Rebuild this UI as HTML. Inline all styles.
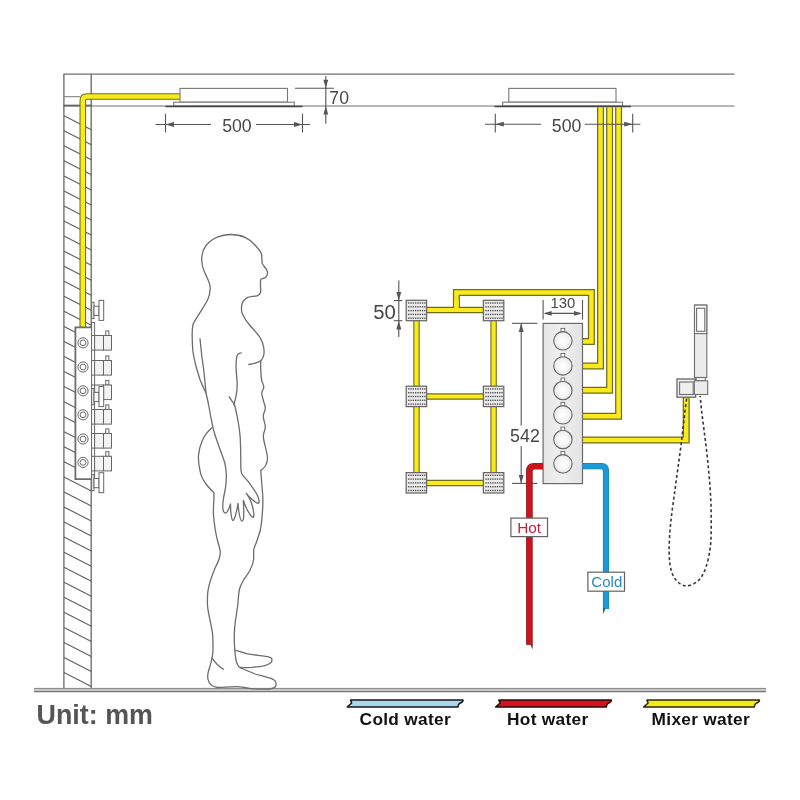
<!DOCTYPE html>
<html><head><meta charset="utf-8">
<style>
html,body{margin:0;padding:0;background:#fff;}
body{width:800px;height:800px;overflow:hidden;font-family:"Liberation Sans",sans-serif;}
svg{display:block;will-change:transform;}
text{font-family:"Liberation Sans",sans-serif;}
</style></head><body>
<svg width="800" height="800" viewBox="0 0 800 800">
<defs>
<linearGradient id="panelg" x1="0" x2="1" y1="0" y2="0">
<stop offset="0" stop-color="#e6e6e6"/><stop offset="0.45" stop-color="#efefef"/><stop offset="1" stop-color="#e3e3e3"/>
</linearGradient>
<radialGradient id="knobg" cx="0.5" cy="0.5" r="0.55">
<stop offset="0" stop-color="#ffffff"/><stop offset="0.6" stop-color="#f4f4f4"/><stop offset="1" stop-color="#dedede"/>
</radialGradient>
</defs>
<rect width="800" height="800" fill="#fff"/>
<g fill="none" stroke="#707070" stroke-width="1.2">
<line x1="63.4" y1="74.2" x2="734.5" y2="74.2"/>
<line x1="63.4" y1="106" x2="734.5" y2="106"/>
<line x1="63.9" y1="74" x2="63.9" y2="691" stroke="#666" stroke-width="1.3"/>
<line x1="91.2" y1="74" x2="91.2" y2="691" stroke="#666" stroke-width="1.3"/>
<line x1="64" y1="96.7" x2="80" y2="96.7" stroke="#777" stroke-width="1"/>
<line x1="63.4" y1="105.5" x2="91.9" y2="105.5" stroke="#666" stroke-width="1.7"/>
</g>
<g stroke="#606060" stroke-width="1.15" fill="none">
<line x1="64" y1="115.70" x2="91.30" y2="129.70"/>
<line x1="64" y1="130.75" x2="91.30" y2="144.75"/>
<line x1="64" y1="145.80" x2="91.30" y2="159.80"/>
<line x1="64" y1="160.85" x2="91.30" y2="174.85"/>
<line x1="64" y1="175.90" x2="91.30" y2="189.90"/>
<line x1="64" y1="190.95" x2="91.30" y2="204.95"/>
<line x1="64" y1="206.00" x2="91.30" y2="220.00"/>
<line x1="64" y1="221.05" x2="91.30" y2="235.05"/>
<line x1="64" y1="236.10" x2="91.30" y2="250.10"/>
<line x1="64" y1="251.15" x2="91.30" y2="265.15"/>
<line x1="64" y1="266.20" x2="91.30" y2="280.20"/>
<line x1="64" y1="281.25" x2="91.30" y2="295.25"/>
<line x1="64" y1="296.30" x2="91.30" y2="310.30"/>
<line x1="64" y1="311.35" x2="91.30" y2="325.35"/>
<line x1="64" y1="326.40" x2="91.30" y2="340.40"/>
<line x1="64" y1="341.45" x2="91.30" y2="355.45"/>
<line x1="64" y1="356.50" x2="91.30" y2="370.50"/>
<line x1="64" y1="371.55" x2="91.30" y2="385.55"/>
<line x1="64" y1="386.60" x2="91.30" y2="400.60"/>
<line x1="64" y1="401.65" x2="91.30" y2="415.65"/>
<line x1="64" y1="416.70" x2="91.30" y2="430.70"/>
<line x1="64" y1="431.75" x2="91.30" y2="445.75"/>
<line x1="64" y1="446.80" x2="91.30" y2="460.80"/>
<line x1="64" y1="461.85" x2="91.30" y2="475.85"/>
<line x1="64" y1="476.90" x2="91.30" y2="490.90"/>
<line x1="64" y1="491.95" x2="91.30" y2="505.95"/>
<line x1="64" y1="507.00" x2="91.30" y2="521.00"/>
<line x1="64" y1="522.05" x2="91.30" y2="536.05"/>
<line x1="64" y1="537.10" x2="91.30" y2="551.10"/>
<line x1="64" y1="552.15" x2="91.30" y2="566.15"/>
<line x1="64" y1="567.20" x2="91.30" y2="581.20"/>
<line x1="64" y1="582.25" x2="91.30" y2="596.25"/>
<line x1="64" y1="597.30" x2="91.30" y2="611.30"/>
<line x1="64" y1="612.35" x2="91.30" y2="626.35"/>
<line x1="64" y1="627.40" x2="91.30" y2="641.40"/>
<line x1="64" y1="642.45" x2="91.30" y2="656.45"/>
<line x1="64" y1="657.50" x2="91.30" y2="671.50"/>
<line x1="64" y1="672.55" x2="91.30" y2="686.55"/>
</g>
<rect x="34" y="688" width="732" height="3.9" fill="#c8c8c8"/>
<line x1="34" y1="688.4" x2="766" y2="688.4" stroke="#888" stroke-width="1"/>
<line x1="34" y1="691.6" x2="766" y2="691.6" stroke="#777" stroke-width="1.1"/>
<path d="M180.5 96.5 H86.8 Q82.8 96.5 82.8 100.5 V327.4" fill="none" stroke="#726c18" stroke-width="6.6" stroke-linejoin="round" stroke-linecap="butt"/><path d="M180.5 96.5 H86.8 Q82.8 96.5 82.8 100.5 V327.4" fill="none" stroke="#f8ea1c" stroke-width="4.5" stroke-linejoin="round" stroke-linecap="butt"/>
<g stroke="#777" stroke-width="1.1" fill="#fff"><rect x="180" y="88.4" width="107.5" height="13.8"/><rect x="173.8" y="102.2" width="120.5" height="3.6"/></g><line x1="165.5" y1="106.5" x2="302.5" y2="106.5" stroke="#444" stroke-width="1.6"/>
<g stroke="#777" stroke-width="1.1" fill="#fff"><rect x="508.8" y="88.4" width="107.19999999999999" height="13.8"/><rect x="502.7" y="102.2" width="119.80000000000001" height="3.6"/></g><line x1="494.5" y1="106.5" x2="631" y2="106.5" stroke="#444" stroke-width="1.6"/>
<path d="M600.5 107.3 V366 H582.5" fill="none" stroke="#726c18" stroke-width="7.0" stroke-linejoin="miter" stroke-linecap="butt"/><path d="M600.5 107.3 V366 H582.5" fill="none" stroke="#f8ea1c" stroke-width="4.5" stroke-linejoin="miter" stroke-linecap="butt"/>
<path d="M609.6 107.3 V390.2 H582.5" fill="none" stroke="#726c18" stroke-width="7.0" stroke-linejoin="miter" stroke-linecap="butt"/><path d="M609.6 107.3 V390.2 H582.5" fill="none" stroke="#f8ea1c" stroke-width="4.5" stroke-linejoin="miter" stroke-linecap="butt"/>
<path d="M618.6 107.3 V416.2 H582.5" fill="none" stroke="#726c18" stroke-width="7.0" stroke-linejoin="miter" stroke-linecap="butt"/><path d="M618.6 107.3 V416.2 H582.5" fill="none" stroke="#f8ea1c" stroke-width="4.5" stroke-linejoin="miter" stroke-linecap="butt"/>
<path d="M456.4 310 V292.5 H591.4 V341.6 H582.5" fill="none" stroke="#726c18" stroke-width="7.0" stroke-linejoin="miter" stroke-linecap="butt"/><path d="M456.4 310 V292.5 H591.4 V341.6 H582.5" fill="none" stroke="#f8ea1c" stroke-width="4.5" stroke-linejoin="miter" stroke-linecap="butt"/>
<path d="M582.5 440 H686.2 V397.5" fill="none" stroke="#726c18" stroke-width="7.0" stroke-linejoin="miter" stroke-linecap="butt"/><path d="M582.5 440 H686.2 V397.5" fill="none" stroke="#f8ea1c" stroke-width="4.5" stroke-linejoin="miter" stroke-linecap="butt"/>
<path d="M416.5 310 V483 M493.6 310 V483 M416.5 310 H493.6 M416.5 396.5 H493.6 M416.5 483 H493.6" fill="none" stroke="#726c18" stroke-width="6.4" stroke-linejoin="miter" stroke-linecap="butt"/><path d="M416.5 310 V483 M493.6 310 V483 M416.5 310 H493.6 M416.5 396.5 H493.6 M416.5 483 H493.6" fill="none" stroke="#f8ea1c" stroke-width="4.2" stroke-linejoin="miter" stroke-linecap="butt"/>
<rect x="454.15" y="300" width="4.5" height="11.5" fill="#f8ea1c"/>
<rect x="406.2" y="300.3" width="20.4" height="20.4" fill="#ebebeb" stroke="#666" stroke-width="1.25"/><rect x="408.10" y="302.30" width="1.35" height="1.4" fill="#505050"/><rect x="410.40" y="302.30" width="1.35" height="1.4" fill="#505050"/><rect x="412.70" y="302.30" width="1.35" height="1.4" fill="#505050"/><rect x="415.00" y="302.30" width="1.35" height="1.4" fill="#505050"/><rect x="417.30" y="302.30" width="1.35" height="1.4" fill="#505050"/><rect x="419.60" y="302.30" width="1.35" height="1.4" fill="#505050"/><rect x="421.90" y="302.30" width="1.35" height="1.4" fill="#505050"/><rect x="424.20" y="302.30" width="1.35" height="1.4" fill="#505050"/><rect x="408.10" y="306.10" width="1.35" height="1.4" fill="#505050"/><rect x="410.40" y="306.10" width="1.35" height="1.4" fill="#505050"/><rect x="412.70" y="306.10" width="1.35" height="1.4" fill="#505050"/><rect x="415.00" y="306.10" width="1.35" height="1.4" fill="#505050"/><rect x="417.30" y="306.10" width="1.35" height="1.4" fill="#505050"/><rect x="419.60" y="306.10" width="1.35" height="1.4" fill="#505050"/><rect x="421.90" y="306.10" width="1.35" height="1.4" fill="#505050"/><rect x="424.20" y="306.10" width="1.35" height="1.4" fill="#505050"/><rect x="408.10" y="309.90" width="1.35" height="1.4" fill="#505050"/><rect x="410.40" y="309.90" width="1.35" height="1.4" fill="#505050"/><rect x="412.70" y="309.90" width="1.35" height="1.4" fill="#505050"/><rect x="415.00" y="309.90" width="1.35" height="1.4" fill="#505050"/><rect x="417.30" y="309.90" width="1.35" height="1.4" fill="#505050"/><rect x="419.60" y="309.90" width="1.35" height="1.4" fill="#505050"/><rect x="421.90" y="309.90" width="1.35" height="1.4" fill="#505050"/><rect x="424.20" y="309.90" width="1.35" height="1.4" fill="#505050"/><rect x="408.10" y="313.70" width="1.35" height="1.4" fill="#505050"/><rect x="410.40" y="313.70" width="1.35" height="1.4" fill="#505050"/><rect x="412.70" y="313.70" width="1.35" height="1.4" fill="#505050"/><rect x="415.00" y="313.70" width="1.35" height="1.4" fill="#505050"/><rect x="417.30" y="313.70" width="1.35" height="1.4" fill="#505050"/><rect x="419.60" y="313.70" width="1.35" height="1.4" fill="#505050"/><rect x="421.90" y="313.70" width="1.35" height="1.4" fill="#505050"/><rect x="424.20" y="313.70" width="1.35" height="1.4" fill="#505050"/><rect x="408.10" y="317.50" width="1.35" height="1.4" fill="#505050"/><rect x="410.40" y="317.50" width="1.35" height="1.4" fill="#505050"/><rect x="412.70" y="317.50" width="1.35" height="1.4" fill="#505050"/><rect x="415.00" y="317.50" width="1.35" height="1.4" fill="#505050"/><rect x="417.30" y="317.50" width="1.35" height="1.4" fill="#505050"/><rect x="419.60" y="317.50" width="1.35" height="1.4" fill="#505050"/><rect x="421.90" y="317.50" width="1.35" height="1.4" fill="#505050"/><rect x="424.20" y="317.50" width="1.35" height="1.4" fill="#505050"/>
<rect x="406.2" y="386.2" width="20.4" height="20.4" fill="#ebebeb" stroke="#666" stroke-width="1.25"/><rect x="408.10" y="388.20" width="1.35" height="1.4" fill="#505050"/><rect x="410.40" y="388.20" width="1.35" height="1.4" fill="#505050"/><rect x="412.70" y="388.20" width="1.35" height="1.4" fill="#505050"/><rect x="415.00" y="388.20" width="1.35" height="1.4" fill="#505050"/><rect x="417.30" y="388.20" width="1.35" height="1.4" fill="#505050"/><rect x="419.60" y="388.20" width="1.35" height="1.4" fill="#505050"/><rect x="421.90" y="388.20" width="1.35" height="1.4" fill="#505050"/><rect x="424.20" y="388.20" width="1.35" height="1.4" fill="#505050"/><rect x="408.10" y="392.00" width="1.35" height="1.4" fill="#505050"/><rect x="410.40" y="392.00" width="1.35" height="1.4" fill="#505050"/><rect x="412.70" y="392.00" width="1.35" height="1.4" fill="#505050"/><rect x="415.00" y="392.00" width="1.35" height="1.4" fill="#505050"/><rect x="417.30" y="392.00" width="1.35" height="1.4" fill="#505050"/><rect x="419.60" y="392.00" width="1.35" height="1.4" fill="#505050"/><rect x="421.90" y="392.00" width="1.35" height="1.4" fill="#505050"/><rect x="424.20" y="392.00" width="1.35" height="1.4" fill="#505050"/><rect x="408.10" y="395.80" width="1.35" height="1.4" fill="#505050"/><rect x="410.40" y="395.80" width="1.35" height="1.4" fill="#505050"/><rect x="412.70" y="395.80" width="1.35" height="1.4" fill="#505050"/><rect x="415.00" y="395.80" width="1.35" height="1.4" fill="#505050"/><rect x="417.30" y="395.80" width="1.35" height="1.4" fill="#505050"/><rect x="419.60" y="395.80" width="1.35" height="1.4" fill="#505050"/><rect x="421.90" y="395.80" width="1.35" height="1.4" fill="#505050"/><rect x="424.20" y="395.80" width="1.35" height="1.4" fill="#505050"/><rect x="408.10" y="399.60" width="1.35" height="1.4" fill="#505050"/><rect x="410.40" y="399.60" width="1.35" height="1.4" fill="#505050"/><rect x="412.70" y="399.60" width="1.35" height="1.4" fill="#505050"/><rect x="415.00" y="399.60" width="1.35" height="1.4" fill="#505050"/><rect x="417.30" y="399.60" width="1.35" height="1.4" fill="#505050"/><rect x="419.60" y="399.60" width="1.35" height="1.4" fill="#505050"/><rect x="421.90" y="399.60" width="1.35" height="1.4" fill="#505050"/><rect x="424.20" y="399.60" width="1.35" height="1.4" fill="#505050"/><rect x="408.10" y="403.40" width="1.35" height="1.4" fill="#505050"/><rect x="410.40" y="403.40" width="1.35" height="1.4" fill="#505050"/><rect x="412.70" y="403.40" width="1.35" height="1.4" fill="#505050"/><rect x="415.00" y="403.40" width="1.35" height="1.4" fill="#505050"/><rect x="417.30" y="403.40" width="1.35" height="1.4" fill="#505050"/><rect x="419.60" y="403.40" width="1.35" height="1.4" fill="#505050"/><rect x="421.90" y="403.40" width="1.35" height="1.4" fill="#505050"/><rect x="424.20" y="403.40" width="1.35" height="1.4" fill="#505050"/>
<rect x="406.2" y="472.6" width="20.4" height="20.4" fill="#ebebeb" stroke="#666" stroke-width="1.25"/><rect x="408.10" y="474.60" width="1.35" height="1.4" fill="#505050"/><rect x="410.40" y="474.60" width="1.35" height="1.4" fill="#505050"/><rect x="412.70" y="474.60" width="1.35" height="1.4" fill="#505050"/><rect x="415.00" y="474.60" width="1.35" height="1.4" fill="#505050"/><rect x="417.30" y="474.60" width="1.35" height="1.4" fill="#505050"/><rect x="419.60" y="474.60" width="1.35" height="1.4" fill="#505050"/><rect x="421.90" y="474.60" width="1.35" height="1.4" fill="#505050"/><rect x="424.20" y="474.60" width="1.35" height="1.4" fill="#505050"/><rect x="408.10" y="478.40" width="1.35" height="1.4" fill="#505050"/><rect x="410.40" y="478.40" width="1.35" height="1.4" fill="#505050"/><rect x="412.70" y="478.40" width="1.35" height="1.4" fill="#505050"/><rect x="415.00" y="478.40" width="1.35" height="1.4" fill="#505050"/><rect x="417.30" y="478.40" width="1.35" height="1.4" fill="#505050"/><rect x="419.60" y="478.40" width="1.35" height="1.4" fill="#505050"/><rect x="421.90" y="478.40" width="1.35" height="1.4" fill="#505050"/><rect x="424.20" y="478.40" width="1.35" height="1.4" fill="#505050"/><rect x="408.10" y="482.20" width="1.35" height="1.4" fill="#505050"/><rect x="410.40" y="482.20" width="1.35" height="1.4" fill="#505050"/><rect x="412.70" y="482.20" width="1.35" height="1.4" fill="#505050"/><rect x="415.00" y="482.20" width="1.35" height="1.4" fill="#505050"/><rect x="417.30" y="482.20" width="1.35" height="1.4" fill="#505050"/><rect x="419.60" y="482.20" width="1.35" height="1.4" fill="#505050"/><rect x="421.90" y="482.20" width="1.35" height="1.4" fill="#505050"/><rect x="424.20" y="482.20" width="1.35" height="1.4" fill="#505050"/><rect x="408.10" y="486.00" width="1.35" height="1.4" fill="#505050"/><rect x="410.40" y="486.00" width="1.35" height="1.4" fill="#505050"/><rect x="412.70" y="486.00" width="1.35" height="1.4" fill="#505050"/><rect x="415.00" y="486.00" width="1.35" height="1.4" fill="#505050"/><rect x="417.30" y="486.00" width="1.35" height="1.4" fill="#505050"/><rect x="419.60" y="486.00" width="1.35" height="1.4" fill="#505050"/><rect x="421.90" y="486.00" width="1.35" height="1.4" fill="#505050"/><rect x="424.20" y="486.00" width="1.35" height="1.4" fill="#505050"/><rect x="408.10" y="489.80" width="1.35" height="1.4" fill="#505050"/><rect x="410.40" y="489.80" width="1.35" height="1.4" fill="#505050"/><rect x="412.70" y="489.80" width="1.35" height="1.4" fill="#505050"/><rect x="415.00" y="489.80" width="1.35" height="1.4" fill="#505050"/><rect x="417.30" y="489.80" width="1.35" height="1.4" fill="#505050"/><rect x="419.60" y="489.80" width="1.35" height="1.4" fill="#505050"/><rect x="421.90" y="489.80" width="1.35" height="1.4" fill="#505050"/><rect x="424.20" y="489.80" width="1.35" height="1.4" fill="#505050"/>
<rect x="483.4" y="300.3" width="20.4" height="20.4" fill="#ebebeb" stroke="#666" stroke-width="1.25"/><rect x="485.30" y="302.30" width="1.35" height="1.4" fill="#505050"/><rect x="487.60" y="302.30" width="1.35" height="1.4" fill="#505050"/><rect x="489.90" y="302.30" width="1.35" height="1.4" fill="#505050"/><rect x="492.20" y="302.30" width="1.35" height="1.4" fill="#505050"/><rect x="494.50" y="302.30" width="1.35" height="1.4" fill="#505050"/><rect x="496.80" y="302.30" width="1.35" height="1.4" fill="#505050"/><rect x="499.10" y="302.30" width="1.35" height="1.4" fill="#505050"/><rect x="501.40" y="302.30" width="1.35" height="1.4" fill="#505050"/><rect x="485.30" y="306.10" width="1.35" height="1.4" fill="#505050"/><rect x="487.60" y="306.10" width="1.35" height="1.4" fill="#505050"/><rect x="489.90" y="306.10" width="1.35" height="1.4" fill="#505050"/><rect x="492.20" y="306.10" width="1.35" height="1.4" fill="#505050"/><rect x="494.50" y="306.10" width="1.35" height="1.4" fill="#505050"/><rect x="496.80" y="306.10" width="1.35" height="1.4" fill="#505050"/><rect x="499.10" y="306.10" width="1.35" height="1.4" fill="#505050"/><rect x="501.40" y="306.10" width="1.35" height="1.4" fill="#505050"/><rect x="485.30" y="309.90" width="1.35" height="1.4" fill="#505050"/><rect x="487.60" y="309.90" width="1.35" height="1.4" fill="#505050"/><rect x="489.90" y="309.90" width="1.35" height="1.4" fill="#505050"/><rect x="492.20" y="309.90" width="1.35" height="1.4" fill="#505050"/><rect x="494.50" y="309.90" width="1.35" height="1.4" fill="#505050"/><rect x="496.80" y="309.90" width="1.35" height="1.4" fill="#505050"/><rect x="499.10" y="309.90" width="1.35" height="1.4" fill="#505050"/><rect x="501.40" y="309.90" width="1.35" height="1.4" fill="#505050"/><rect x="485.30" y="313.70" width="1.35" height="1.4" fill="#505050"/><rect x="487.60" y="313.70" width="1.35" height="1.4" fill="#505050"/><rect x="489.90" y="313.70" width="1.35" height="1.4" fill="#505050"/><rect x="492.20" y="313.70" width="1.35" height="1.4" fill="#505050"/><rect x="494.50" y="313.70" width="1.35" height="1.4" fill="#505050"/><rect x="496.80" y="313.70" width="1.35" height="1.4" fill="#505050"/><rect x="499.10" y="313.70" width="1.35" height="1.4" fill="#505050"/><rect x="501.40" y="313.70" width="1.35" height="1.4" fill="#505050"/><rect x="485.30" y="317.50" width="1.35" height="1.4" fill="#505050"/><rect x="487.60" y="317.50" width="1.35" height="1.4" fill="#505050"/><rect x="489.90" y="317.50" width="1.35" height="1.4" fill="#505050"/><rect x="492.20" y="317.50" width="1.35" height="1.4" fill="#505050"/><rect x="494.50" y="317.50" width="1.35" height="1.4" fill="#505050"/><rect x="496.80" y="317.50" width="1.35" height="1.4" fill="#505050"/><rect x="499.10" y="317.50" width="1.35" height="1.4" fill="#505050"/><rect x="501.40" y="317.50" width="1.35" height="1.4" fill="#505050"/>
<rect x="483.4" y="386.2" width="20.4" height="20.4" fill="#ebebeb" stroke="#666" stroke-width="1.25"/><rect x="485.30" y="388.20" width="1.35" height="1.4" fill="#505050"/><rect x="487.60" y="388.20" width="1.35" height="1.4" fill="#505050"/><rect x="489.90" y="388.20" width="1.35" height="1.4" fill="#505050"/><rect x="492.20" y="388.20" width="1.35" height="1.4" fill="#505050"/><rect x="494.50" y="388.20" width="1.35" height="1.4" fill="#505050"/><rect x="496.80" y="388.20" width="1.35" height="1.4" fill="#505050"/><rect x="499.10" y="388.20" width="1.35" height="1.4" fill="#505050"/><rect x="501.40" y="388.20" width="1.35" height="1.4" fill="#505050"/><rect x="485.30" y="392.00" width="1.35" height="1.4" fill="#505050"/><rect x="487.60" y="392.00" width="1.35" height="1.4" fill="#505050"/><rect x="489.90" y="392.00" width="1.35" height="1.4" fill="#505050"/><rect x="492.20" y="392.00" width="1.35" height="1.4" fill="#505050"/><rect x="494.50" y="392.00" width="1.35" height="1.4" fill="#505050"/><rect x="496.80" y="392.00" width="1.35" height="1.4" fill="#505050"/><rect x="499.10" y="392.00" width="1.35" height="1.4" fill="#505050"/><rect x="501.40" y="392.00" width="1.35" height="1.4" fill="#505050"/><rect x="485.30" y="395.80" width="1.35" height="1.4" fill="#505050"/><rect x="487.60" y="395.80" width="1.35" height="1.4" fill="#505050"/><rect x="489.90" y="395.80" width="1.35" height="1.4" fill="#505050"/><rect x="492.20" y="395.80" width="1.35" height="1.4" fill="#505050"/><rect x="494.50" y="395.80" width="1.35" height="1.4" fill="#505050"/><rect x="496.80" y="395.80" width="1.35" height="1.4" fill="#505050"/><rect x="499.10" y="395.80" width="1.35" height="1.4" fill="#505050"/><rect x="501.40" y="395.80" width="1.35" height="1.4" fill="#505050"/><rect x="485.30" y="399.60" width="1.35" height="1.4" fill="#505050"/><rect x="487.60" y="399.60" width="1.35" height="1.4" fill="#505050"/><rect x="489.90" y="399.60" width="1.35" height="1.4" fill="#505050"/><rect x="492.20" y="399.60" width="1.35" height="1.4" fill="#505050"/><rect x="494.50" y="399.60" width="1.35" height="1.4" fill="#505050"/><rect x="496.80" y="399.60" width="1.35" height="1.4" fill="#505050"/><rect x="499.10" y="399.60" width="1.35" height="1.4" fill="#505050"/><rect x="501.40" y="399.60" width="1.35" height="1.4" fill="#505050"/><rect x="485.30" y="403.40" width="1.35" height="1.4" fill="#505050"/><rect x="487.60" y="403.40" width="1.35" height="1.4" fill="#505050"/><rect x="489.90" y="403.40" width="1.35" height="1.4" fill="#505050"/><rect x="492.20" y="403.40" width="1.35" height="1.4" fill="#505050"/><rect x="494.50" y="403.40" width="1.35" height="1.4" fill="#505050"/><rect x="496.80" y="403.40" width="1.35" height="1.4" fill="#505050"/><rect x="499.10" y="403.40" width="1.35" height="1.4" fill="#505050"/><rect x="501.40" y="403.40" width="1.35" height="1.4" fill="#505050"/>
<rect x="483.4" y="472.6" width="20.4" height="20.4" fill="#ebebeb" stroke="#666" stroke-width="1.25"/><rect x="485.30" y="474.60" width="1.35" height="1.4" fill="#505050"/><rect x="487.60" y="474.60" width="1.35" height="1.4" fill="#505050"/><rect x="489.90" y="474.60" width="1.35" height="1.4" fill="#505050"/><rect x="492.20" y="474.60" width="1.35" height="1.4" fill="#505050"/><rect x="494.50" y="474.60" width="1.35" height="1.4" fill="#505050"/><rect x="496.80" y="474.60" width="1.35" height="1.4" fill="#505050"/><rect x="499.10" y="474.60" width="1.35" height="1.4" fill="#505050"/><rect x="501.40" y="474.60" width="1.35" height="1.4" fill="#505050"/><rect x="485.30" y="478.40" width="1.35" height="1.4" fill="#505050"/><rect x="487.60" y="478.40" width="1.35" height="1.4" fill="#505050"/><rect x="489.90" y="478.40" width="1.35" height="1.4" fill="#505050"/><rect x="492.20" y="478.40" width="1.35" height="1.4" fill="#505050"/><rect x="494.50" y="478.40" width="1.35" height="1.4" fill="#505050"/><rect x="496.80" y="478.40" width="1.35" height="1.4" fill="#505050"/><rect x="499.10" y="478.40" width="1.35" height="1.4" fill="#505050"/><rect x="501.40" y="478.40" width="1.35" height="1.4" fill="#505050"/><rect x="485.30" y="482.20" width="1.35" height="1.4" fill="#505050"/><rect x="487.60" y="482.20" width="1.35" height="1.4" fill="#505050"/><rect x="489.90" y="482.20" width="1.35" height="1.4" fill="#505050"/><rect x="492.20" y="482.20" width="1.35" height="1.4" fill="#505050"/><rect x="494.50" y="482.20" width="1.35" height="1.4" fill="#505050"/><rect x="496.80" y="482.20" width="1.35" height="1.4" fill="#505050"/><rect x="499.10" y="482.20" width="1.35" height="1.4" fill="#505050"/><rect x="501.40" y="482.20" width="1.35" height="1.4" fill="#505050"/><rect x="485.30" y="486.00" width="1.35" height="1.4" fill="#505050"/><rect x="487.60" y="486.00" width="1.35" height="1.4" fill="#505050"/><rect x="489.90" y="486.00" width="1.35" height="1.4" fill="#505050"/><rect x="492.20" y="486.00" width="1.35" height="1.4" fill="#505050"/><rect x="494.50" y="486.00" width="1.35" height="1.4" fill="#505050"/><rect x="496.80" y="486.00" width="1.35" height="1.4" fill="#505050"/><rect x="499.10" y="486.00" width="1.35" height="1.4" fill="#505050"/><rect x="501.40" y="486.00" width="1.35" height="1.4" fill="#505050"/><rect x="485.30" y="489.80" width="1.35" height="1.4" fill="#505050"/><rect x="487.60" y="489.80" width="1.35" height="1.4" fill="#505050"/><rect x="489.90" y="489.80" width="1.35" height="1.4" fill="#505050"/><rect x="492.20" y="489.80" width="1.35" height="1.4" fill="#505050"/><rect x="494.50" y="489.80" width="1.35" height="1.4" fill="#505050"/><rect x="496.80" y="489.80" width="1.35" height="1.4" fill="#505050"/><rect x="499.10" y="489.80" width="1.35" height="1.4" fill="#505050"/><rect x="501.40" y="489.80" width="1.35" height="1.4" fill="#505050"/>
<rect x="543.1" y="323.4" width="39.4" height="160.2" fill="url(#panelg)" stroke="#6a6a6a" stroke-width="1.2"/>
<rect x="561" y="328.4" width="3.8" height="4.5" fill="#fff" stroke="#666" stroke-width="0.9"/>
<circle cx="562.9" cy="340.8" r="9.2" fill="url(#knobg)" stroke="#666" stroke-width="1.1"/>
<rect x="561" y="353.5" width="3.8" height="4.5" fill="#fff" stroke="#666" stroke-width="0.9"/>
<circle cx="562.9" cy="365.9" r="9.2" fill="url(#knobg)" stroke="#666" stroke-width="1.1"/>
<rect x="561" y="378.1" width="3.8" height="4.5" fill="#fff" stroke="#666" stroke-width="0.9"/>
<circle cx="562.9" cy="390.5" r="9.2" fill="url(#knobg)" stroke="#666" stroke-width="1.1"/>
<rect x="561" y="402.4" width="3.8" height="4.5" fill="#fff" stroke="#666" stroke-width="0.9"/>
<circle cx="562.9" cy="414.8" r="9.2" fill="url(#knobg)" stroke="#666" stroke-width="1.1"/>
<rect x="561" y="427.1" width="3.8" height="4.5" fill="#fff" stroke="#666" stroke-width="0.9"/>
<circle cx="562.9" cy="439.5" r="9.2" fill="url(#knobg)" stroke="#666" stroke-width="1.1"/>
<rect x="561" y="451.4" width="3.8" height="4.5" fill="#fff" stroke="#666" stroke-width="0.9"/>
<circle cx="562.9" cy="463.8" r="9.2" fill="url(#knobg)" stroke="#666" stroke-width="1.1"/>
<g stroke="#6e6e6e" stroke-width="1.1">
<rect x="694.5" y="305.1" width="12.3" height="72.4" fill="#ececec"/>
<rect x="694.5" y="305.1" width="12.3" height="28.5" fill="#f8f8f8"/>
<rect x="696.6" y="308.3" width="8.2" height="23" fill="#fff"/>
<rect x="696" y="377.5" width="9.3" height="3.2" fill="#f4f4f4"/>
<rect x="677" y="379" width="18.6" height="18.2" fill="#f0f0f0" stroke="#666" stroke-width="1.3"/>
<rect x="679.6" y="382" width="13.6" height="12.5" fill="#efefef"/>
<rect x="694.3" y="380.8" width="13.4" height="13.7" fill="#ececec"/>
</g>
<path d="M686.6 398.5 C684.5 415 682.5 432 681.5 442 C680 453 678.5 464 677 475 C675.5 486 674 497 672.5 508 C671.2 518 670 528 669.5 538 C669 548 669 556 669.8 563 C670.8 571 673 577 676.5 580.5 C679 583.5 682.5 585.8 686 585.8 C690 585.8 695 584 699 580 C702.5 576.5 705.5 570 708 560 C709.8 552 710.8 545 711 538 C711.3 527 711.3 516 711 505 C710.5 493 709.7 481 708.5 469 C707.3 456 705.7 443 704 430 C702.7 419 701 408 700.2 396" fill="none" stroke="#363636" stroke-width="1.6" stroke-dasharray="3 2.5"/>
<g stroke="#555" stroke-width="1.1" fill="none">
<line x1="165.5" y1="113.8" x2="165.5" y2="132.5"/><line x1="302.5" y1="113.8" x2="302.5" y2="132.5"/>
<line x1="155.5" y1="124.5" x2="211" y2="124.5"/><line x1="256" y1="124.5" x2="310" y2="124.5"/>
<line x1="495.3" y1="113.8" x2="495.3" y2="132.5"/><line x1="632.7" y1="113.8" x2="632.7" y2="132.5"/>
<line x1="485" y1="124.2" x2="541" y2="124.2"/><line x1="584.7" y1="124.2" x2="640.4" y2="124.2"/>
<line x1="325.8" y1="76" x2="325.8" y2="123.8"/><line x1="295" y1="88.3" x2="334" y2="88.3"/>
<line x1="398.8" y1="280.5" x2="398.8" y2="337"/><line x1="393.8" y1="300.6" x2="402.4" y2="300.6"/><line x1="393.8" y1="320.7" x2="402.4" y2="320.7"/>
<line x1="543.1" y1="300" x2="543.1" y2="319.6"/><line x1="582.5" y1="300" x2="582.5" y2="319.6"/><line x1="545" y1="313.4" x2="580" y2="313.4"/>
<line x1="512" y1="323.3" x2="537.4" y2="323.3"/><line x1="512" y1="483.4" x2="537.4" y2="483.4"/>
<line x1="521.2" y1="324" x2="521.2" y2="425.6"/><line x1="521.2" y1="446.3" x2="521.2" y2="483"/>
</g>
<polygon points="165.50,124.50 174.00,122.10 174.00,126.90" fill="#555"/>
<polygon points="302.50,124.50 294.00,122.10 294.00,126.90" fill="#555"/>
<polygon points="495.30,124.20 503.80,121.80 503.80,126.60" fill="#555"/>
<polygon points="632.70,124.20 624.20,121.80 624.20,126.60" fill="#555"/>
<polygon points="325.80,88.30 323.40,79.80 328.20,79.80" fill="#555"/>
<polygon points="325.80,106.00 323.40,114.50 328.20,114.50" fill="#555"/>
<polygon points="398.80,300.60 396.30,291.90 401.30,291.90" fill="#555"/>
<polygon points="398.80,320.70 396.30,329.40 401.30,329.40" fill="#555"/>
<polygon points="543.60,313.40 551.60,311.00 551.60,315.80" fill="#555"/>
<polygon points="582.00,313.40 574.00,311.00 574.00,315.80" fill="#555"/>
<polygon points="521.20,323.60 518.70,331.90 523.70,331.90" fill="#555"/>
<polygon points="521.20,483.20 518.70,474.90 523.70,474.90" fill="#555"/>
<text x="222.21" y="131.67" font-size="17.65" fill="#474747">500</text>
<text x="551.84" y="131.68" font-size="17.68" fill="#474747">500</text>
<text x="329.35" y="103.58" font-size="17.68" fill="#474747">70</text>
<text x="373.34" y="318.56" font-size="20.25" fill="#474747">50</text>
<text x="550.58" y="307.56" font-size="14.86" fill="#474747">130</text>
<text x="510.06" y="442.23" font-size="17.85" fill="#474747">542</text>
<path d="M543 466.2 H534 Q529.4 466.2 529.4 471 V644.8" fill="none" stroke="#8e1a1f" stroke-width="6.6" stroke-linejoin="round" stroke-linecap="butt"/><path d="M543 466.2 H534 Q529.4 466.2 529.4 471 V644.8" fill="none" stroke="#c9151e" stroke-width="5.4" stroke-linejoin="round" stroke-linecap="butt"/>
<polygon points="530.2,644.2 532.8,644.2 532.6,649.6" fill="#5a3a3a"/>
<path d="M582.5 466.2 H601.5 Q606 466.2 606 471 V609" fill="none" stroke="#1a75a8" stroke-width="6.2" stroke-linejoin="round" stroke-linecap="butt"/><path d="M582.5 466.2 H601.5 Q606 466.2 606 471 V609" fill="none" stroke="#1c9ad8" stroke-width="5.2" stroke-linejoin="round" stroke-linecap="butt"/>
<polygon points="602.9,608.3 605.6,608.3 603.2,614.3" fill="#2c5f80"/>
<rect x="510.9" y="518.1" width="36.6" height="18.5" fill="#fff" stroke="#626262" stroke-width="1.2"/>
<rect x="587.9" y="572.2" width="36.6" height="19" fill="#fff" stroke="#626262" stroke-width="1.2"/>
<g id="leftpanel">
<rect x="75.3" y="327.4" width="16.2" height="151.8" fill="#fff" stroke="none"/>
<path d="M91.5 327.4 H75.4 V479.2 H91.5" fill="none" stroke="#6c6c6c" stroke-width="1.8"/>
<circle cx="83" cy="342.8" r="5.1" fill="#fff" stroke="#6a6a6a" stroke-width="1"/>
<circle cx="83" cy="342.8" r="2.9" fill="#fff" stroke="#6a6a6a" stroke-width="1"/>
<circle cx="83" cy="367" r="5.1" fill="#fff" stroke="#6a6a6a" stroke-width="1"/>
<circle cx="83" cy="367" r="2.9" fill="#fff" stroke="#6a6a6a" stroke-width="1"/>
<circle cx="83" cy="390.8" r="5.1" fill="#fff" stroke="#6a6a6a" stroke-width="1"/>
<circle cx="83" cy="390.8" r="2.9" fill="#fff" stroke="#6a6a6a" stroke-width="1"/>
<circle cx="83" cy="414.8" r="5.1" fill="#fff" stroke="#6a6a6a" stroke-width="1"/>
<circle cx="83" cy="414.8" r="2.9" fill="#fff" stroke="#6a6a6a" stroke-width="1"/>
<circle cx="83" cy="439" r="5.1" fill="#fff" stroke="#6a6a6a" stroke-width="1"/>
<circle cx="83" cy="439" r="2.9" fill="#fff" stroke="#6a6a6a" stroke-width="1"/>
<circle cx="83" cy="462.4" r="5.1" fill="#fff" stroke="#6a6a6a" stroke-width="1"/>
<circle cx="83" cy="462.4" r="2.9" fill="#fff" stroke="#6a6a6a" stroke-width="1"/>
<rect x="91.6" y="322.5" width="3" height="161" fill="#fff" stroke="#666" stroke-width="1"/>
<g fill="#f3f3f3" stroke="#666" stroke-width="1">
<rect x="105.8" y="330.9" width="3.1" height="4.6" fill="#fff"/>
<rect x="94.6" y="335.5" width="8.9" height="14.6"/>
<path d="M92 335.5 H94.6 M92 350.1 H94.6" fill="none"/>
<rect x="103.5" y="335.5" width="8" height="14.6"/>
<rect x="105.8" y="355.9" width="3.1" height="4.6" fill="#fff"/>
<rect x="94.6" y="360.5" width="8.9" height="14.6"/>
<path d="M92 360.5 H94.6 M92 375.1 H94.6" fill="none"/>
<rect x="103.5" y="360.5" width="8" height="14.6"/>
<rect x="105.8" y="380.4" width="3.1" height="4.6" fill="#fff"/>
<rect x="94.6" y="385" width="8.9" height="14.6"/>
<path d="M92 385 H94.6 M92 399.6 H94.6" fill="none"/>
<rect x="103.5" y="385" width="8" height="14.6"/>
<rect x="105.8" y="404.9" width="3.1" height="4.6" fill="#fff"/>
<rect x="94.6" y="409.5" width="8.9" height="14.6"/>
<path d="M92 409.5 H94.6 M92 424.1 H94.6" fill="none"/>
<rect x="103.5" y="409.5" width="8" height="14.6"/>
<rect x="105.8" y="428.9" width="3.1" height="4.6" fill="#fff"/>
<rect x="94.6" y="433.5" width="8.9" height="14.6"/>
<path d="M92 433.5 H94.6 M92 448.1 H94.6" fill="none"/>
<rect x="103.5" y="433.5" width="8" height="14.6"/>
<rect x="105.8" y="451.7" width="3.1" height="4.6" fill="#fff"/>
<rect x="94.6" y="456.3" width="8.9" height="14.6"/>
<path d="M92 456.3 H94.6 M92 470.90000000000003 H94.6" fill="none"/>
<rect x="103.5" y="456.3" width="8" height="14.6"/>
</g>
<g fill="#fff" stroke="#666" stroke-width="1"><rect x="91.7" y="302.3" width="2.3" height="16.2"/><rect x="94" y="306.2" width="5" height="9.2"/><rect x="99" y="300.4" width="4.7" height="20"/></g>
<g fill="#fff" stroke="#666" stroke-width="1"><rect x="91.7" y="388.5" width="2.3" height="16.2"/><rect x="94" y="392.4" width="5" height="9.2"/><rect x="99" y="386.6" width="4.7" height="20"/></g>
<g fill="#fff" stroke="#666" stroke-width="1"><rect x="91.7" y="474.6" width="2.3" height="16.2"/><rect x="94" y="478.5" width="5" height="9.2"/><rect x="99" y="472.7" width="4.7" height="20"/></g>
</g>
<g fill="none" stroke="#6c6c6c" stroke-width="1.3" stroke-linejoin="round" stroke-linecap="round">
<path d="M230 234.5 C222 234.5 212 238 206 245.5 C202.6 250 201.5 256 201.8 261.5 C202.1 268 204.6 272.5 206.8 277 C209 281.5 210.4 284.5 210.2 288.5 C210 293 209.6 295.5 208 299 C205.5 304.5 198.8 314 193.3 323.5 C192 328 192.1 333 192.2 338 C192.3 343 192.5 347 192.9 351 C193.5 356 194.5 360 195.5 364.5 C197 370 198.5 375 200 379.5 C202 385 204.5 390 206 393 C207.3 398 208.3 403 209.2 408 C210 413 211.5 421 213.5 430 C215.5 437 217.5 442 219.5 448 C221.5 453.5 223.5 458.5 224.8 463 C225.8 467 226.2 471 226.3 475 C226.4 480 226.2 483 225.6 487 C225 491 224 495 223.4 499 C222.8 503 222.5 506.5 223 509.5 C223.4 511.8 224.3 512.9 225.5 513 C227 513 228 510.5 228.9 508.5 C229.7 506.8 230.2 505 230.5 503.8 C230.6 507.5 230.6 511 231.1 514.3 C231.5 517 232 520.2 232.8 520.4 C233.8 520.6 234.5 518.5 235.1 516.7 C236.3 512.5 237.3 508 238 503.3 C238.2 506.5 238.5 509.5 239 512.5 C239.6 516 240.7 521 241.9 521.2 C243 521.4 243.5 519 243.7 516.9 C243.9 511.5 243.6 506 243.3 500.3 C244.3 503.3 245.4 506.3 246.8 509 C248.4 512 251.3 517 252.9 517.3 C254 517.5 254 514.5 253.7 512.5 C253.2 509 252.3 505.5 251.1 502 C249.9 498.8 248.2 495.8 246.3 493.3 C247.8 495.2 249.4 497 251.1 498.5 C253.2 500.3 256 503 257.7 503.3 C259 503.5 259.3 501.8 259 500.3 C258.7 498.5 258.1 496.7 257.2 495 C254.8 490.3 251.5 486 248.5 481.9 C246.3 479 243.3 476.5 241.9 474 C241 471.8 240.8 469.5 240.8 467 C240.8 464.5 240.9 462 240.8 460 C240.8 452 240.6 445 240.2 437.5 C239.7 430 238.6 424 237.5 418 C236.6 413.5 235.6 409 234.5 404.5 C234 403.3 233.1 402.2 232.3 401.5 C231.2 399.8 230.2 398.3 229.3 396.8"/>
<path d="M230 234.5 C236 234.4 241 235.5 245 237.3 C249 239.2 251.5 241.3 254 244 C257.3 247.5 260.3 250.8 261.5 253.8 C262.1 257 261.6 260.5 262.3 263.5 C263.5 266.3 267 268.8 267.5 271.8 C267.7 273.8 267.2 275.7 266 277 C264.7 278.3 262.2 278.6 260.8 279.3 C260.3 281.3 260.5 283.7 260.5 286 C260.5 288.3 261 290.7 260.5 292.8 C260 294.5 258.7 295.3 257 295.8 C254.2 296.6 251 296.3 248 297.3 C245.3 298.5 242.9 301 242 304 C241.3 307 241.3 310.2 242 313 C243.2 316 247 322 249.5 325 C253 329 257.2 333 260 337.5 C262 341 263.3 344.5 263.8 348 C264.1 350.3 264.2 352.7 263.8 354.8 C263.3 357 262.2 359.2 260.8 360.8 C260.6 364 260.6 367 260.8 370.5 C261 374 261.2 378 261.8 381 C262.2 383 263.8 384.5 263.8 387 C263.8 389.5 261.8 390.5 261.8 393 C261.8 396 263 399 263.8 402 C264.4 404 265.3 405.8 265.3 408 C265.3 410.8 263.5 413 263.3 415.5 C263 419.5 265.3 423 265.3 427 C265.3 430.2 263.3 432.8 263.3 436 C263.3 440.5 265.2 445 266 449.5 C266.6 452.5 267.6 455.5 267.5 458.5 C267.4 461.3 266.6 464 265.3 466 C264.1 467.8 262.3 469.2 260.8 470.5 C261 475 261.5 480 261.8 484 C262.2 489 262.8 494.5 262.9 499.4 C263 504.5 262.6 510 262.2 515 C261.8 520.5 261.3 525.5 260.3 530 C259.4 534.2 257.6 538.2 256.5 542 C255.6 544.6 254.2 547 253.8 549.5 C253.3 553 254 556.5 253.5 560 C253 563.8 251.5 567.3 249.8 570.5 C247.9 574.3 245 577.5 243 581 C241.4 583.9 240 586.9 239.3 590 C238.3 595 238.3 600 237.8 605 C237.2 610 236.3 615 235.5 620 C234.8 625 234.4 630 234.3 635 C234.2 640 234.4 645 234.8 650 C235 653 235.2 656 235.8 659 C236.2 661.2 236.9 663.3 237.8 665 C238.3 666 239.1 666.8 240 667.5 C241.5 668.3 243 668.9 244.5 669.5 C248 670.9 251.5 672.6 255 674 C261 675.8 267.5 676.9 273 679.3 C274.7 680.2 275.8 681.5 276 683 C276.2 684.5 276 685.9 275.3 686.8 C274 688.2 272 688.8 270 689 C263.5 689.3 257 689.2 250.5 688.7 C247 688.3 243.5 687.2 240 686.8 C232.5 686.3 225 687.3 217.5 687.5 C215.3 687.3 213.2 686.4 211.5 685.3 C209.5 683.7 208.2 681.2 207.8 678.5 C207.5 676 207.9 673.3 208.5 671 C209.5 667 211.3 663 211.8 659 C212.5 656 213 653 213 650 C213 645 212.9 640 212.7 635 C212.2 630 211 625 210 620 C209 615 207.7 610 207.5 605 C207.3 600 207.4 595 208 590.5 C208.7 586.5 209.6 583 210.8 579.5 C212 575.5 213.7 571.5 215.3 567.5 C216.8 564.5 218.5 561.5 219.3 558.5 C220 556 220.5 553.5 220.2 551 C219.8 548.5 219 546 218.3 543.5 C217 539 216 534.5 215.3 530 C214.5 525 213.8 520 213.5 515 C213.3 510 213.5 505 213.9 500 C213.9 497.5 213.9 495 214 492.8 C211 489.8 208.2 487 206 484 C203 480 200.7 475.5 200 470.5 C198.8 465.5 198.2 460.5 198.5 455.5 C199 450 200.3 445 202.3 440.5 C204.5 435.5 208 431 212 427.8"/>
<path d="M260.8 360.8 C257 362.8 253 364 248.8 364.5"/>
<path d="M200 338.7 C201 350 202.5 362 204 372 C204.7 379 205.4 386 206 393"/>
<path d="M241.3 352.8 C239 353 237.3 354.2 236.8 356.3 C236.2 360 236 364 236 367.5 C236.3 373 237 378.5 237.2 384 C237.3 388 236.8 392 236 396 C235.5 399 234.6 402.3 233.8 405"/>
<path d="M212.3 658.3 C215 662.5 219 666.5 223.5 669.2"/>
<path d="M234.8 650 C239 651.3 243.2 652.7 247.5 653.8 C254.5 655 261.5 655.6 268.5 656.8 C270 657.2 271.5 657.8 271.8 659 C272.2 660.5 271.7 661.9 270.8 662.8 C269 664.3 266.5 665.2 264 665.8 C260 666.6 256 666.9 252 667.3 C248 667.5 244 667.6 240 667.5"/>
</g>
<text x="36.53" y="723.93" font-size="26.86" fill="#555" font-weight="bold">Unit: mm</text>
<path transform="translate(0,0)" d="M350.5 700.1 H463 C463.6 702 461 702.8 459.3 703.6 C458.3 704.3 458.1 705.5 458 707 H347.2 L351.7 703 Z" fill="#a9d7f0" stroke="#141414" stroke-width="1.5" stroke-linejoin="round"/>
<path transform="translate(148.4,0)" d="M350.5 700.1 H463 C463.6 702 461 702.8 459.3 703.6 C458.3 704.3 458.1 705.5 458 707 H347.2 L351.7 703 Z" fill="#d5121e" stroke="#2a0808" stroke-width="1.5" stroke-linejoin="round"/>
<path transform="translate(296.4,0)" d="M350.5 700.1 H463 C463.6 702 461 702.8 459.3 703.6 C458.3 704.3 458.1 705.5 458 707 H347.2 L351.7 703 Z" fill="#f6ea16" stroke="#2a2606" stroke-width="1.5" stroke-linejoin="round"/>
<text x="359.61" y="725.38" font-size="17.30" fill="#111" font-weight="bold" letter-spacing="0.3">Cold water</text>
<text x="507.02" y="725.21" font-size="17.30" fill="#111" font-weight="bold" letter-spacing="0.3">Hot water</text>
<text x="651.62" y="725.38" font-size="17.30" fill="#111" font-weight="bold" letter-spacing="0.3">Mixer water</text>
<text x="517.24" y="532.70" font-size="15.35" fill="#c4203a">Hot</text>
<text x="591.36" y="587.09" font-size="15.02" fill="#2b8ac6">Cold</text>
</svg>
</body></html>
